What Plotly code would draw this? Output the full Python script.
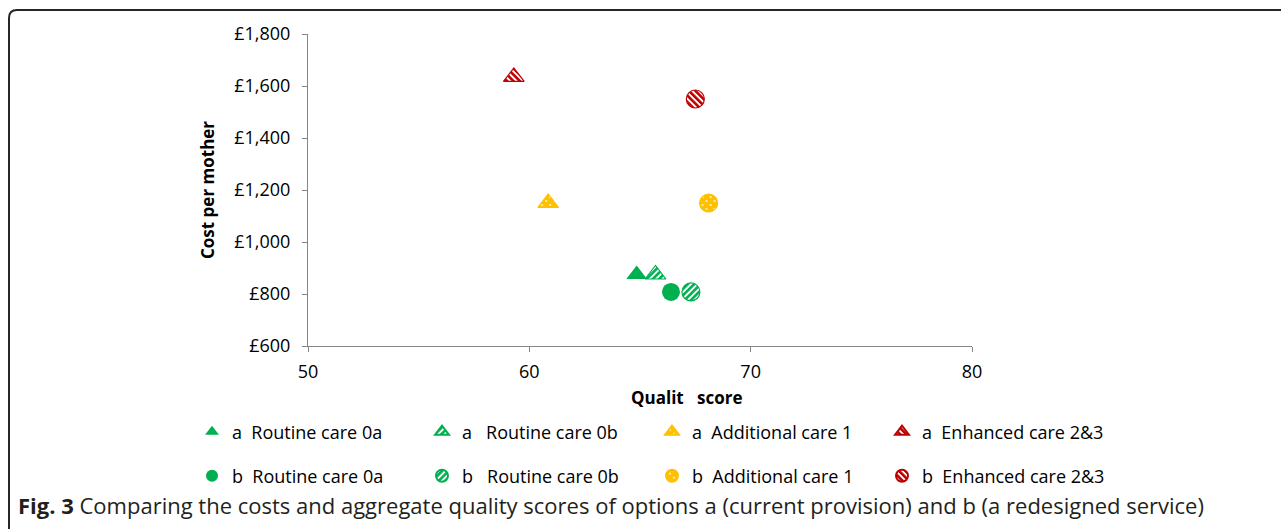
import plotly.graph_objects as go

# ---- data -------------------------------------------------------------
options = ["Routine care 0a", "Routine care 0b", "Additional care 1", "Enhanced care 2&3"]
legend_gaps = [2, 3, 2, 2]            # non-breaking spaces after the a/b letter

quality_a = [64.85, 65.7, 60.85, 59.3]     # option a: current provision
cost_a = [875, 875, 1150, 1635]
quality_b = [66.4, 67.3, 68.1, 67.5]       # option b: redesigned service
cost_b = [808, 808, 1150, 1550]

x_ticks = [50, 60, 70, 80]
y_ticks = [600, 800, 1000, 1200, 1400, 1600, 1800]
y_tick_labels = ["£600", "£800", "£1,000", "£1,200", "£1,400", "£1,600", "£1,800"]

# ---- styling ----------------------------------------------------------
GREEN, YELLOW, RED = "#00B050", "#FFC000", "#C00000"
colours = [GREEN, GREEN, YELLOW, RED]
fills = [None, "hatch-ne-green", "dots-yellow", "hatch-nw-red"]   # SVG pattern ids
FONT = "Open Sans"
AXIS_GREY = "#868686"

W, H = 1281, 529
L, R, T, B = 308, 972, 34, 346   # plot area in pixels


def px_x(px):
    return (px - L) / (R - L)


def px_y(py):
    return (B - py) / (B - T)


fig = go.Figure()

for series, xs, ys, symbol, legend_id in (
    ("a", quality_a, cost_a, "triangle-up", "legend"),
    ("b", quality_b, cost_b, "circle", "legend2"),
):
    for i, name in enumerate(options):
        label = series + "\u00a0" * legend_gaps[i] + name
        fig.add_trace(go.Scatter(
            x=[xs[i]], y=[ys[i]],
            mode="markers",
            name=label,
            legend=legend_id,
            meta=fills[i] or "",
            marker=dict(
                symbol=symbol,
                size=18,
                color=colours[i],
                line=dict(color=colours[i], width=1.2 if fills[i] else 0),
            ),
            hoverinfo="x+y+name",
        ))

axis_common = dict(
    showgrid=False, zeroline=False, showline=True,
    linecolor=AXIS_GREY, linewidth=1,
    ticks="outside", ticklen=5, tickcolor=AXIS_GREY, tickwidth=1,
    tickfont=dict(family=FONT, size=18, color="#000000"),
)

legend_common = dict(
    orientation="h", xanchor="left", yanchor="middle",
    x=px_x(192),
    entrywidth=185, entrywidthmode="pixels",
    itemsizing="constant",
    font=dict(family=FONT, size=18, color="#000000"),
    bgcolor="rgba(0,0,0,0)", borderwidth=0,
    traceorder="normal",
)

# rounded frame along the top and left edges
fx0, fy0, rad = 9, 10, 8
frame_path = (
    f"M {px_x(W + 20)},{px_y(fy0)} "
    f"L {px_x(fx0 + rad)},{px_y(fy0)} "
    f"Q {px_x(fx0)},{px_y(fy0)} {px_x(fx0)},{px_y(fy0 + rad)} "
    f"L {px_x(fx0)},{px_y(H + 20)}"
)

fig.update_layout(
    width=W, height=H,
    margin=dict(l=L, r=W - R, t=T, b=H - B, pad=0),
    paper_bgcolor="white", plot_bgcolor="white",
    font=dict(family=FONT, size=18, color="#000000"),
    showlegend=True,
    xaxis=dict(range=[50, 80], tickvals=x_ticks, ticklabelstandoff=4, **axis_common),
    yaxis=dict(range=[600, 1800], tickvals=y_ticks, ticktext=y_tick_labels,
               ticklabelstandoff=8, **axis_common),
    legend=dict(y=px_y(432), **legend_common),
    legend2=dict(y=px_y(476), **legend_common),
    shapes=[dict(type="path", xref="paper", yref="paper", path=frame_path,
                 line=dict(color="#262626", width=2), layer="above")],
    annotations=[
        dict(text="<b>Cost per mother</b>", textangle=-90,
             x=px_x(207), y=0.5, xref="paper", yref="paper",
             xanchor="center", yanchor="middle", showarrow=False,
             font=dict(family=FONT, size=17, color="#000000")),
        dict(text="<b>Qualit\u00a0\u00a0\u00a0score</b>",
             x=px_x(686), y=px_y(397), xref="paper", yref="paper",
             xanchor="center", yanchor="middle", showarrow=False,
             font=dict(family=FONT, size=17, color="#000000")),
        dict(text="<b>Fig. 3</b> Comparing the costs and aggregate quality scores of options "
                  "a (current provision) and b (a redesigned service)",
             x=px_x(16), y=px_y(505), xref="paper", yref="paper",
             xanchor="left", yanchor="middle", showarrow=False,
             font=dict(family=FONT, size=22, color="#231F20")),
    ],
)

# Fill the hatched / dotted markers (plot and legend) with SVG patterns.
patterns_js = r"""
var gd = document.getElementById('{plot_id}');
function addDefs() {
  if (document.getElementById('hatch-ne-green')) return;
  var defs =
    '<svg width="0" height="0" style="position:absolute;left:0;top:0"><defs>' +
    '<pattern id="hatch-ne-green" width="4.5" height="4.5" patternUnits="userSpaceOnUse" patternTransform="rotate(45)">' +
    '<rect width="4.5" height="4.5" fill="#ffffff"/><rect width="2.6" height="4.5" fill="#00B050"/></pattern>' +
    '<pattern id="hatch-nw-red" width="4.5" height="4.5" patternUnits="userSpaceOnUse" patternTransform="rotate(-45)">' +
    '<rect width="4.5" height="4.5" fill="#ffffff"/><rect width="2.6" height="4.5" fill="#C00000"/></pattern>' +
    '<pattern id="dots-yellow" width="8" height="8" patternUnits="userSpaceOnUse">' +
    '<rect width="8" height="8" fill="#FFC000"/>' +
    '<circle cx="2" cy="2" r="0.9" fill="#ffffff"/><circle cx="6" cy="6" r="0.9" fill="#ffffff"/></pattern>' +
    '</defs></svg>';
  document.body.insertAdjacentHTML('beforeend', defs);
}
function paint() {
  addDefs();
  gd.querySelectorAll('.scatterlayer .trace').forEach(function (g) {
    var d = g.__data__, t = d && d[0] && d[0].trace;
    if (!t || !t.meta) return;
    g.querySelectorAll('path.point').forEach(function (p) {
      p.style.fill = 'url(#' + t.meta + ')';
    });
  });
  gd.querySelectorAll('.infolayer g.traces').forEach(function (g) {
    var d = g.__data__, t = d && d[0] && d[0].trace;
    if (!t || !t.meta) return;
    g.querySelectorAll('path.scatterpts').forEach(function (p) {
      p.style.fill = 'url(#' + t.meta + ')';
    });
  });
}
paint();
gd.on('plotly_afterplot', paint);
"""

fig.write_html("out.html", post_script=patterns_js, config={"displayModeBar": False})
